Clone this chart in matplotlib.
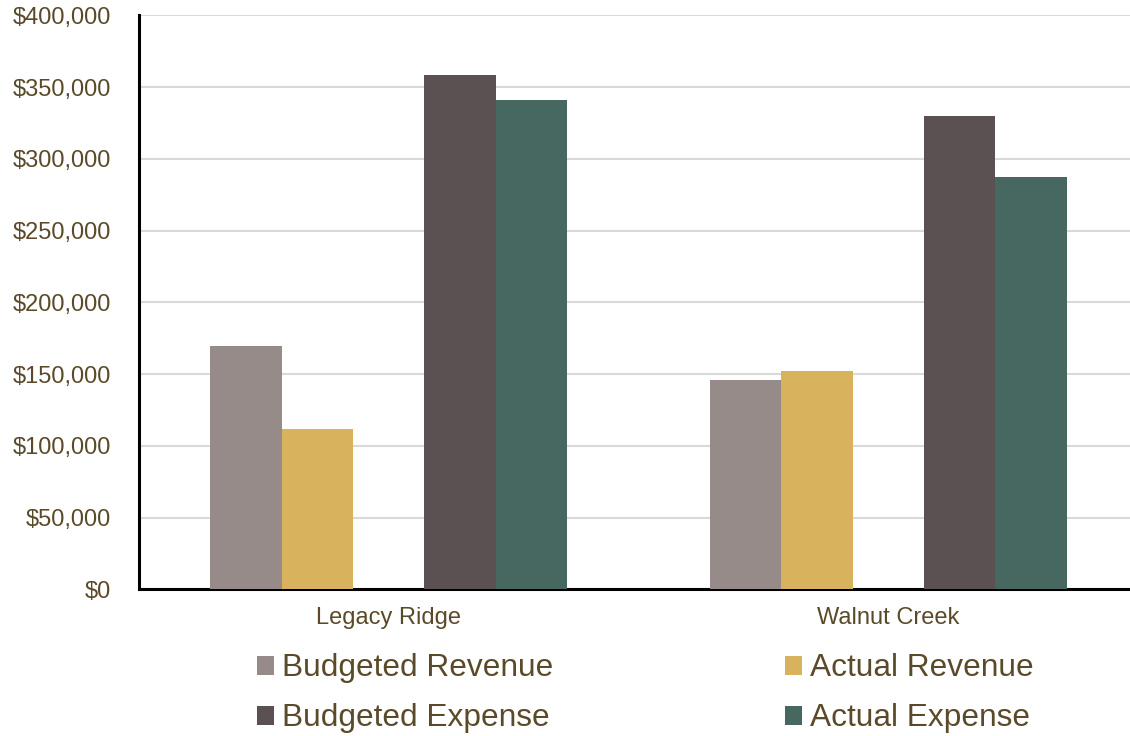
import numpy as np
import matplotlib
matplotlib.use("Agg")
import matplotlib.pyplot as plt
from matplotlib.ticker import FuncFormatter

plt.rcParams['font.family'] = ['Liberation Sans', 'DejaVu Sans']

# community-level budget vs actual figures
communities = ["Legacy Ridge", "Walnut Creek"]
budgeted_revenue = [169500, 146000]
actual_revenue = [111500, 152000]
budgeted_expense = [358300, 329800]
actual_expense = [341200, 287200]

series_names = ["Budgeted Revenue", "Actual Revenue", "Budgeted Expense", "Actual Expense"]
series_colors = ["#968b89", "#d8b25c", "#5c5152", "#476860"]
text_color = "#5b4a29"

fig = plt.figure(figsize=(11.3, 7.36), dpi=100)
ax = fig.add_axes([0.123, 0.1993, 0.877, 0.7797])

x = np.arange(len(communities))
w = 0.143
# revenue pair on the left, expense pair on the right, one empty slot between
offsets = [-2 * w, -w, w, 2 * w]
values = [budgeted_revenue, actual_revenue, budgeted_expense, actual_expense]
bars = []
for off, vals, name, col in zip(offsets, values, series_names, series_colors):
    b = ax.bar(x + off, vals, width=w, color=col, label=name, zorder=3)
    bars.append(b)

ax.set_xlim(-0.5, 1.484)
ax.set_ylim(0, 400000)
ax.set_yticks(np.arange(0, 400001, 50000))
ax.yaxis.set_major_formatter(FuncFormatter(lambda v, p: f"${v:,.0f}"))
ax.set_xticks(x)
ax.set_xticklabels(communities)

ax.grid(axis='y', color='#d9d9d9', linewidth=1.5, zorder=0)
for s in ['top', 'right']:
    ax.spines[s].set_visible(False)
ax.spines['left'].set_linewidth(2.2)
ax.spines['bottom'].set_linewidth(2.2)
ax.spines['left'].set_color('black')
ax.spines['bottom'].set_color('black')

ax.tick_params(axis='y', length=0, pad=20, labelsize=17, labelcolor=text_color)
ax.tick_params(axis='x', length=0, pad=13, labelsize=17, labelcolor=text_color)

handles = [bars[0], bars[2], bars[1], bars[3]]
labels = [series_names[0], series_names[2], series_names[1], series_names[3]]
leg = fig.legend(handles, labels, ncol=2, loc='center', bbox_to_anchor=(0.571, 0.058),
                 frameon=False, fontsize=22.8, handlelength=0.55, handleheight=0.55,
                 handletextpad=0.25, columnspacing=7.3, labelspacing=0.63, borderpad=0)
for t in leg.get_texts():
    t.set_color(text_color)

fig.savefig("out.png", dpi=100)
